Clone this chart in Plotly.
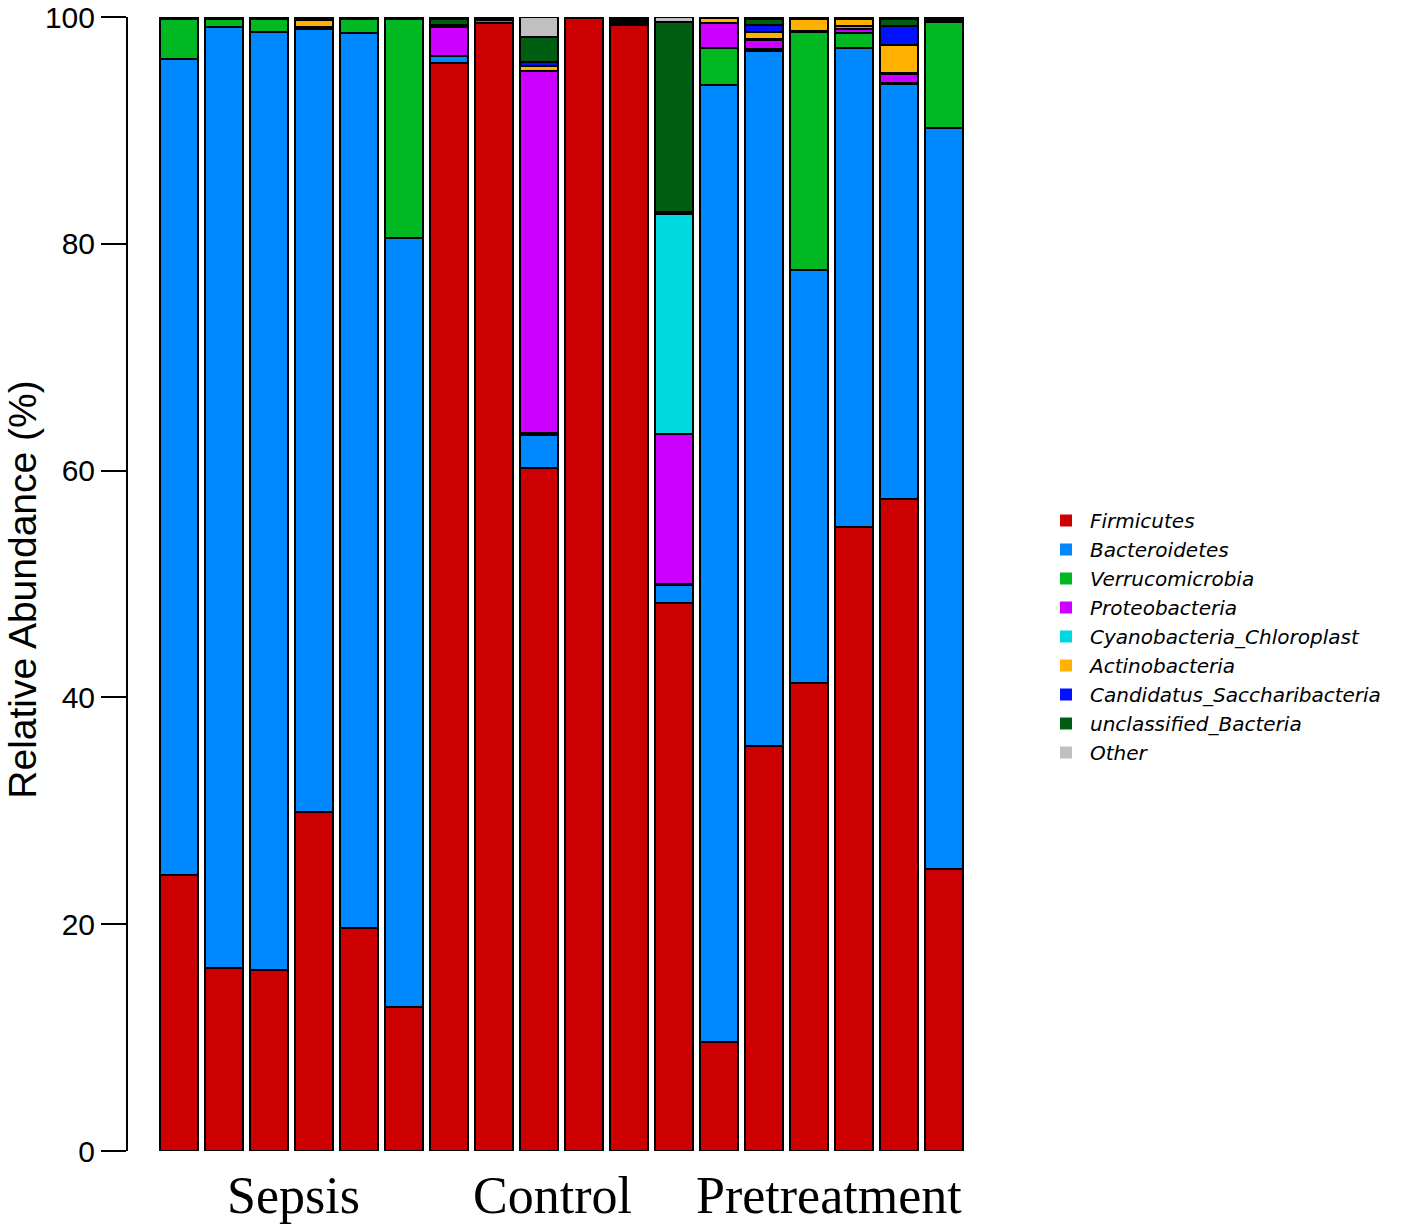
import plotly.graph_objects as go

samples = [f"S{i+1}" for i in range(18)]
groups = ["Sepsis", "Control", "Pretreatment"]
group_pos = [2.55, 8.3, 14.45]

phyla = ["Firmicutes", "Bacteroidetes", "Verrucomicrobia", "Proteobacteria",
         "Cyanobacteria_Chloroplast", "Actinobacteria", "Candidatus_Saccharibacteria",
         "unclassified_Bacteria", "Other"]
colors = ["#CC0000", "#0088FF", "#00B822", "#CC00FF", "#00D8E0",
          "#FFB000", "#0011FF", "#005E13", "#C0C0C0"]

firmicutes = [24.3, 16.1, 16.0, 29.9, 19.7, 12.7, 95.9, 99.5, 60.2, 99.9, 99.3, 48.3, 9.6, 35.7, 41.3, 55.0, 57.5, 24.9]
bacteroidetes = [72.0, 83.0, 82.7, 69.0, 78.9, 67.8, 0.7, 0.2, 2.9, 0.0, 0.2, 1.6, 84.4, 61.3, 36.4, 42.3, 36.6, 65.3]
verrucomicrobia = [3.5, 0.7, 1.1, 0.1, 1.2, 19.3, 0.0, 0.0, 0.2, 0.0, 0.1, 0.1, 3.3, 0.2, 21.0, 1.3, 0.1, 9.4]
proteobacteria = [0.0, 0.0, 0.0, 0.1, 0.0, 0.0, 2.5, 0.0, 31.9, 0.0, 0.1, 13.2, 2.2, 0.8, 0.1, 0.3, 0.8, 0.1]
cyanobacteria = [0, 0, 0, 0, 0, 0, 0, 0, 0, 0, 0, 19.4, 0, 0.1, 0, 0.3, 0.1, 0]
actinobacteria = [0, 0, 0, 0.6, 0, 0, 0.1, 0, 0.5, 0, 0, 0.1, 0.4, 0.6, 1.0, 0.6, 2.4, 0]
candidatus = [0, 0, 0, 0, 0, 0, 0.1, 0, 0.3, 0, 0, 0.1, 0.05, 0.6, 0, 0.1, 1.7, 0]
unclassified = [0.1, 0.1, 0.1, 0.2, 0.1, 0.1, 0.5, 0.2, 2.2, 0.05, 0.2, 16.8, 0.05, 0.5, 0.1, 0.1, 0.6, 0.2]
other = [0.1, 0.1, 0.1, 0.1, 0.1, 0.1, 0.2, 0.1, 1.8, 0.05, 0.1, 0.4, 0.0, 0.2, 0.1, 0.0, 0.2, 0.1]

series = [firmicutes, bacteroidetes, verrucomicrobia, proteobacteria, cyanobacteria,
          actinobacteria, candidatus, unclassified, other]

x_idx = list(range(len(samples)))

W, H = 1416, 1232
ML, MR, MT, MB = 128, 452, 17, 81

fig = go.Figure()
for name, col, vals in zip(phyla, colors, series):
    fig.add_trace(go.Bar(
        x=x_idx, y=vals, name=name, width=0.85,
        marker=dict(color=col, line=dict(color="black", width=2)),
        showlegend=False,
    ))
# legend entries without borders
for name, col in zip(phyla, colors):
    fig.add_trace(go.Bar(
        x=[None], y=[None], name=name,
        marker=dict(color=col, line=dict(width=0)),
        showlegend=True,
    ))

for g, p in zip(groups, group_pos):
    fig.add_annotation(
        x=p, y=0, xref="x", yref="paper", yanchor="top", yshift=-14,
        text=g, showarrow=False,
        font=dict(family="Liberation Serif", size=52, color="black"),
    )

plot_w = W - ML - MR
fig.add_annotation(
    x=(23 - ML) / plot_w, y=0.495, xref="paper", yref="paper",
    xanchor="center", yanchor="middle", textangle=-90,
    text="Relative Abundance (%)", showarrow=False,
    font=dict(size=39, family="Liberation Sans, Arial", color="black"),
)

fig.update_layout(
    width=W, height=H,
    barmode="stack",
    plot_bgcolor="white", paper_bgcolor="white",
    margin=dict(l=ML, r=MR, t=MT, b=MB, autoexpand=False),
    font=dict(family="Liberation Sans, Arial", color="black"),
    xaxis=dict(range=[-1.136, 17.45], showticklabels=False, showline=False,
               ticks="", showgrid=False, zeroline=False),
    yaxis=dict(range=[0, 100], tickvals=[0, 20, 40, 60, 80, 100],
               ticks="outside", ticklen=25, tickwidth=2, tickcolor="black",
               showline=True, linewidth=2, linecolor="black",
               showgrid=False, zeroline=False, automargin=False,
               ticklabeloverflow="allow",
               tickfont=dict(size=30, family="Liberation Sans, Arial")),
    legend=dict(xref="container", yref="container", x=1042 / W, y=1 - 501 / H,
                xanchor="left", yanchor="top",
                font=dict(size=20, style="italic", family="DejaVu Sans"),
                tracegroupgap=0, itemwidth=38, traceorder="normal"),
    bargap=0.15,
)

fig.write_html("out.html", config={"displayModeBar": False},
               post_script="document.body.style.margin='0';")
